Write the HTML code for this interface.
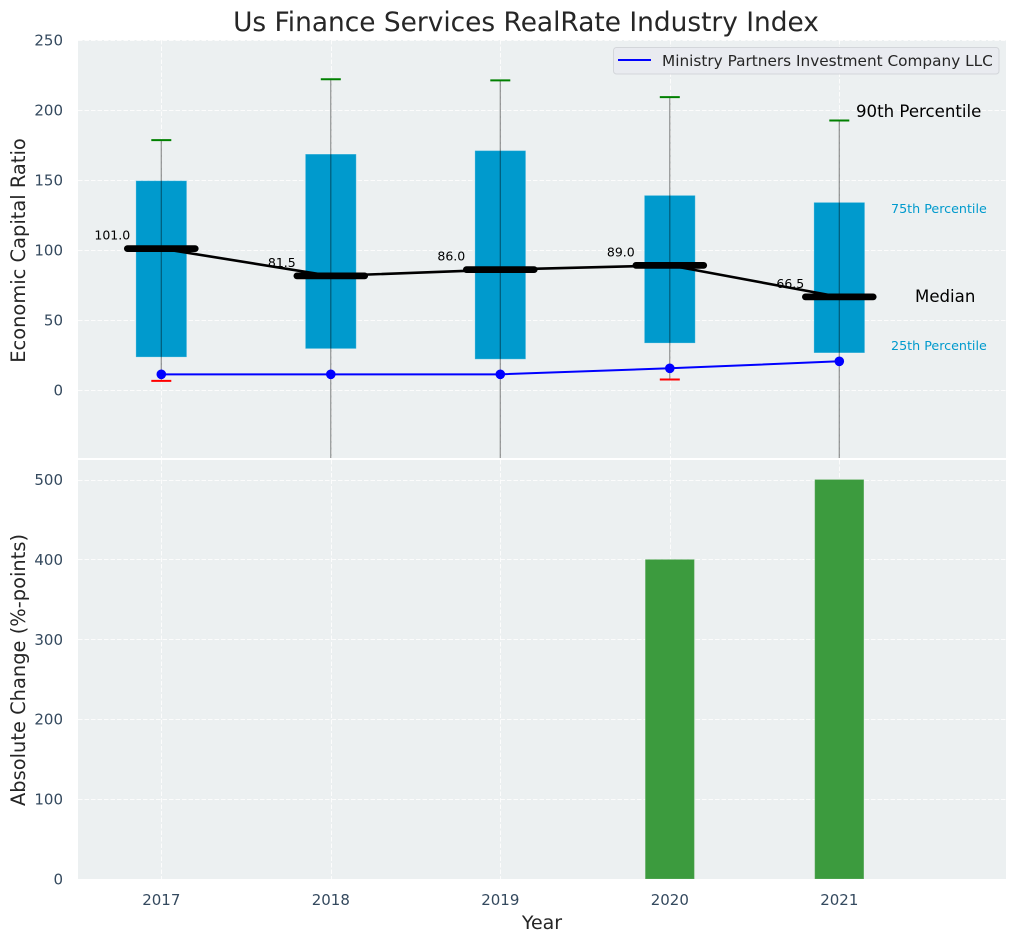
<!DOCTYPE html>
<html>
<head>
<meta charset="utf-8">
<title>Us Finance Services RealRate Industry Index</title>
<style>
html,body{margin:0;padding:0;background:#fff;width:1016px;height:942px;overflow:hidden}
svg{display:block}
text{font-family:"DejaVu Sans","Liberation Sans",sans-serif}
</style>
</head>
<body>
<svg id="chart" xmlns="http://www.w3.org/2000/svg" width="1016" height="942" viewBox="0 0 1016 942">
  <defs>
    <clipPath id="top-clip"><rect x="78" y="40" width="928" height="418"/></clipPath>
    <clipPath id="bottom-clip"><rect x="78" y="460" width="928" height="419"/></clipPath>
  </defs>
  <text x="526" y="31" text-anchor="middle" font-size="26.4" fill="#262626">Us Finance Services RealRate Industry Index</text>
  <rect x="78" y="40" width="928" height="418" fill="#ecf0f1"/>
  <rect x="78" y="460" width="928" height="419" fill="#ecf0f1"/>
  <g id="grid-layer"></g>
  <g id="top-marks" clip-path="url(#top-clip)"></g>
  <g id="bottom-marks" clip-path="url(#bottom-clip)"></g>
  <g id="tick-layer"></g>
  <text transform="translate(25,250.5) rotate(-90)" text-anchor="middle" font-size="19.45" fill="#262626">Economic Capital Ratio</text>
  <text transform="translate(25,670) rotate(-90)" text-anchor="middle" font-size="19.45" fill="#262626">Absolute Change (%-points)</text>
  <text x="542" y="929" text-anchor="middle" font-size="19" fill="#262626">Year</text>
  <text x="856" y="117" font-size="16.6" fill="#000">90th Percentile</text>
  <text x="891" y="213" font-size="12.7" fill="#009acd">75th Percentile</text>
  <text x="915" y="302" font-size="16.6" fill="#000">Median</text>
  <text x="891" y="350" font-size="12.7" fill="#009acd">25th Percentile</text>
  <g>
    <rect x="613.5" y="47.5" width="385.5" height="26.5" rx="3" fill="#e9ebf0" stroke="#d3d6da" stroke-width="1"/>
    <line x1="618" y1="60" x2="651" y2="60" stroke="#0000ff" stroke-width="2"/>
    <text x="662" y="66" font-size="15.3" fill="#262626">Ministry Partners Investment Company LLC</text>
  </g>
</svg>
<script>
const years = [2017, 2018, 2019, 2020, 2021];
const p25 = [23.5, 29.5, 22, 33.5, 26.5];
const p75 = [149.5, 168.5, 171, 139, 134];
const medians = [101, 81.5, 86, 89, 66.5];
const medianLabels = ['101.0', '81.5', '86.0', '89.0', '66.5'];
const p90 = [178.5, 222, 221.2, 209.2, 192.5];
const p10 = [6.5, -60, -60, 7.5, -60];
const companyValues = [11.2, 11.2, 11.2, 15.5, 20.5];
const absoluteChange = [0, 0, 0, 400, 500];
const topTicks = [0, 50, 100, 150, 200, 250];
const bottomTicks = [0, 100, 200, 300, 400, 500];

const NS = 'http://www.w3.org/2000/svg';
const xScale = v => 161.3 + (v - 2017) * 169.5;
const xSpan = d => d * 169.5;
const yTop = v => 390 - v * 1.4;
const yBottom = v => 879 - v * 0.799;

const gridLayer = document.getElementById('grid-layer');
const topMarks = document.getElementById('top-marks');
const bottomMarks = document.getElementById('bottom-marks');
const tickLayer = document.getElementById('tick-layer');

function make(parent, tag, props, content) {
  const el = document.createElementNS(NS, tag);
  for (const k in props) el.setAttribute(k, props[k]);
  if (content !== undefined) el.textContent = content;
  parent.appendChild(el);
  return el;
}

const gridStyle = {stroke: '#ffffff', 'stroke-width': 1, 'stroke-dasharray': '4.5 2', opacity: 0.85};

years.forEach(function (yr) {
  const x = Math.round(xScale(yr)) + 0.5;
  const a = make(gridLayer, 'line', Object.assign({x1: x, x2: x, y1: 40, y2: 458}, gridStyle));
  
  
  const b = make(gridLayer, 'line', Object.assign({x1: x, x2: x, y1: 460, y2: 879}, gridStyle));
  
  
  const t = make(tickLayer, 'text', {x: xScale(yr), y: 905, 'text-anchor': 'middle', 'font-size': 15, fill: '#34495e'}, String(yr));
  
  
});

topTicks.forEach(function (v) {
  const y = Math.round(yTop(v)) + 0.5;
  const l = make(gridLayer, 'line', Object.assign({x1: 78, x2: 1006, y1: y, y2: y}, gridStyle));
  
  
  const t = make(tickLayer, 'text', {x: 63, y: yTop(v) + 5.5, 'text-anchor': 'end', 'font-size': 15, fill: '#34495e'}, String(v));
  
  
});

bottomTicks.forEach(function (v) {
  const y = Math.round(yBottom(v)) + 0.5;
  const l = make(gridLayer, 'line', Object.assign({x1: 78, x2: 1006, y1: y, y2: y}, gridStyle));
  
  
  const t = make(tickLayer, 'text', {x: 63, y: yBottom(v) + 5.5, 'text-anchor': 'end', 'font-size': 15, fill: '#34495e'}, String(v));
  
  
});

years.forEach(function (yr, i) {
  const x = xScale(yr);
  const box = make(topMarks, 'rect', {
    x: x - xSpan(0.15), width: xSpan(0.3),
    y: yTop(p75[i]), height: yTop(p25[i]) - yTop(p75[i]),
    fill: '#009acd', stroke: '#ffffff', 'stroke-opacity': 0.25, 'stroke-width': 1
  });
  
  
  const whisker = make(topMarks, 'line', {x1: x, x2: x, y1: yTop(p10[i]), y2: yTop(p90[i]), stroke: '#000', 'stroke-opacity': 0.42, 'stroke-width': 1.2});
  
  
  const capHigh = make(topMarks, 'line', {x1: x - 10, x2: x + 10, y1: yTop(p90[i]), y2: yTop(p90[i]), stroke: '#008000', 'stroke-width': 2});
  
  
  const capLow = make(topMarks, 'line', {x1: x - 10, x2: x + 10, y1: yTop(p10[i]), y2: yTop(p10[i]), stroke: '#ff0000', 'stroke-width': 2});
  
  
  const bar = make(bottomMarks, 'rect', {
    x: x - xSpan(0.145), width: xSpan(0.29),
    y: yBottom(absoluteChange[i]), height: 879 - yBottom(absoluteChange[i]),
    fill: '#3c9b3e', stroke: '#ffffff', 'stroke-opacity': 0.15, 'stroke-width': 1
  });
  
  
});

medianLabels.forEach(function (label, i) {
  const t = make(topMarks, 'text', {x: xScale(years[i]) - 49, y: yTop(medians[i]) - 9, 'text-anchor': 'middle', 'font-size': 12.5, fill: '#000'}, label);
  
  
});

const medianPath = make(topMarks, 'polyline', {
  points: years.map((yr, i) => xScale(yr) + ',' + yTop(medians[i])).join(' '),
  fill: 'none', stroke: '#000', 'stroke-width': 2.6
});



years.forEach(function (yr, i) {
  const x = xScale(yr);
  const bar = make(topMarks, 'line', {x1: x - xSpan(0.2), x2: x + xSpan(0.2), y1: yTop(medians[i]), y2: yTop(medians[i]), stroke: '#000', 'stroke-width': 6.8, 'stroke-linecap': 'round'});
  
  
});

const companyLine = make(topMarks, 'polyline', {
  points: years.map((yr, i) => xScale(yr) + ',' + yTop(companyValues[i])).join(' '),
  fill: 'none', stroke: '#0000ff', 'stroke-width': 2
});



years.forEach(function (yr, i) {
  const pt = make(topMarks, 'circle', {cx: xScale(yr), cy: yTop(companyValues[i]), r: 4.8, fill: '#0000ff'});
  
  
});
</script>
</body>
</html>
